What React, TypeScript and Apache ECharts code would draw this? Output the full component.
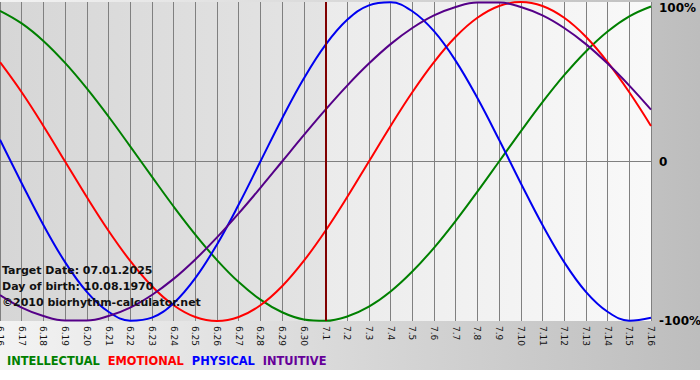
import React, { useEffect, useRef } from "react";
import * as echarts from "echarts";

const categories = [
  "6.16", "6.17", "6.18", "6.19", "6.20", "6.21", "6.22", "6.23", "6.24", "6.25", "6.26",
  "6.27", "6.28", "6.29", "6.30", "7.1", "7.2", "7.3", "7.4", "7.5", "7.6", "7.7", "7.8",
  "7.9", "7.10", "7.11", "7.12", "7.13", "7.14", "7.15", "7.16",
];

const intellectual = [94.5, 86.6, 75.6, 61.8, 45.8, 28.2, 9.5, -9.5, -28.2, -45.8, -61.8, -75.6, -86.6, -94.5, -99.0, -99.9, -97.2, -91.0, -81.5, -69.0, -54.1, -37.2, -18.9, 0, 18.9, 37.2, 54.1, 69.0, 81.5, 91.0, 97.2];
const emotional = [62.3, 43.4, 22.3, 0, -22.3, -43.4, -62.3, -78.2, -90.1, -97.5, -100, -97.5, -90.1, -78.2, -62.3, -43.4, -22.3, 0, 22.3, 43.4, 62.3, 78.2, 90.1, 97.5, 100, 97.5, 90.1, 78.2, 62.3, 43.4, 22.3];
const physical = [13.6, -13.6, -39.8, -63.1, -81.7, -94.2, -99.8, -97.9, -88.8, -73.1, -52.0, -27.0, 0, 27.0, 52.0, 73.1, 88.8, 97.9, 99.8, 94.2, 81.7, 63.1, 39.8, 13.6, -13.6, -39.8, -63.1, -81.7, -94.2, -99.8, -97.9];
const intuitive = [-83.7, -91.6, -96.9, -99.7, -99.7, -96.9, -91.6, -83.7, -73.6, -61.4, -47.6, -32.5, -16.5, 0, 16.5, 32.5, 47.6, 61.4, 73.6, 83.7, 91.6, 96.9, 99.7, 99.7, 96.9, 91.6, 83.7, 73.6, 61.4, 47.6, 32.5];

const seriesNames = ["INTELLECTUAL", "EMOTIONAL", "PHYSICAL", "INTUITIVE"];
const seriesColors = ["#008000", "#ff0000", "#0000f0", "#550088"];
const legendColors = ["#008000", "#ff0000", "#0000ff", "#660099"];
const targetDay = "7.1";
const infoLines = ["Target Date: 07.01.2025", "Day of birth: 10.08.1970", "\u00a92010 biorhythm-calculator.net"];

const FONT = "'DejaVu Sans', Verdana, sans-serif";

export default function App() {
  const ref = useRef<HTMLDivElement>(null);
  useEffect(() => {
    document.body.style.margin = "0";
    if (!ref.current) return;
    const chart = echarts.init(ref.current, undefined, { renderer: "svg" });
    const seriesData = [intellectual, emotional, physical, intuitive];
    const option: any = {
      animation: false,
      grid: {
        left: 0,
        right: 49,
        top: 2,
        bottom: 59,
        containLabel: false,
        outerBoundsMode: "none",
        show: true,
        borderWidth: 0,
        backgroundColor: new echarts.graphic.LinearGradient(0, 0, 1, 0, [
          { offset: 0, color: "#d6d6d6" },
          { offset: 0.5, color: "#e4e4e4" },
          { offset: 0.5, color: "#ebebeb" },
          { offset: 1, color: "#f9f9f9" },
        ]),
      },
      legend: {
        left: 2,
        top: 355,
        padding: 0,
        icon: "rect",
        itemWidth: 0,
        itemHeight: 0,
        itemGap: 3,
        selectedMode: false,
        textStyle: { fontFamily: FONT, fontWeight: "bold", fontSize: 11.4 },
        data: seriesNames.map((n, i) => ({ name: n, textStyle: { color: legendColors[i] } })),
      },
      xAxis: {
        type: "category",
        data: categories,
        boundaryGap: false,
        axisLine: { show: true, lineStyle: { color: "#808080", width: 1 } },
        axisTick: { show: true, length: 4, lineStyle: { color: "#808080" } },
        axisLabel: {
          rotate: -90,
          interval: 0,
          margin: 5,
          fontFamily: FONT,
          fontSize: 9,
          color: "#111",
        },
        splitLine: { show: true, lineStyle: { color: "#808080", width: 1 } },
      },
      yAxis: {
        type: "value",
        position: "right",
        min: -100,
        max: 100,
        interval: 100,
        axisLine: { show: false },
        axisTick: { show: false },
        axisLabel: {
          margin: 8,
          fontFamily: FONT,
          fontWeight: "bold",
          fontSize: 12,
          color: "#000",
          formatter: (v: number) => (v === 100 ? "{t|100%}" : v === 0 ? "0" : v + "%"),
          rich: {
            t: { padding: [11, 0, 0, 0], fontFamily: FONT, fontWeight: "bold", fontSize: 12, color: "#000" },
          },
        },
        splitLine: {
          show: true,
          lineStyle: { color: ["transparent", "#808080", "transparent"], width: 1 },
        },
      },
      graphic: infoLines.map((t, i) => ({
        type: "text",
        left: 2,
        top: [265, 281, 297][i],
        z: 100,
        style: {
          text: t,
          fontFamily: FONT,
          fontWeight: "bold",
          fontSize: 11,
          fill: "#111",
        },
      })),
      series: seriesNames.map((n, i) => ({
        name: n,
        type: "line",
        data: seriesData[i],
        smooth: 0.4,
        showSymbol: false,
        symbol: "none",
        lineStyle: { color: seriesColors[i], width: 2 },
        itemStyle: { color: legendColors[i] },
        z: 3,
        markLine:
          i === 0
            ? {
                silent: true,
                symbol: "none",
                label: { show: false },
                lineStyle: { color: "#800000", width: 2, type: "solid" },
                data: [{ xAxis: targetDay }],
              }
            : undefined,
      })),
    };
    chart.setOption(option);
    return () => chart.dispose();
  }, []);

  return (
    <div style={{ position: "relative", width: 700, height: 380, background: "#fff" }}>
      <div
        style={{
          position: "absolute",
          left: 0,
          top: 0,
          width: 700,
          height: 370,
          background: "linear-gradient(to right, #f3f3f3, #bdbdbd)",
        }}
      />
      <div ref={ref} style={{ position: "absolute", left: 0, top: 0, width: 700, height: 380 }} />
    </div>
  );
}
